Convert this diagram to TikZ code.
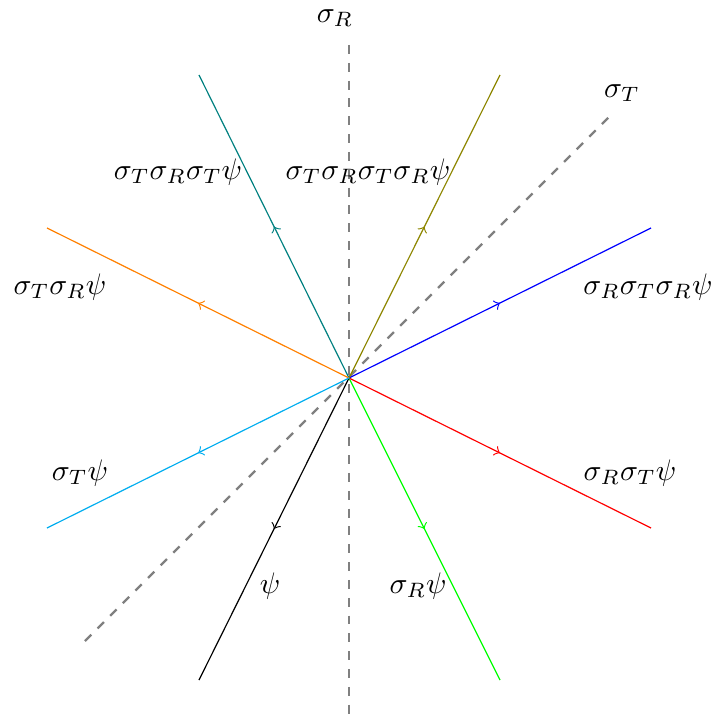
\documentclass[tikz,border=0pt]{standalone}
\usetikzlibrary{decorations.markings}
\begin{document}
\begin{tikzpicture}[x=0.3365pt,y=-0.3365pt,
  ray/.style={postaction={decorate},decoration={markings,mark=at position 0.5 with {\arrow{>}}}},
  mirror/.style={gray,thick,dashed},
  lab/.style={inner sep=0pt}]
\useasboundingbox (0,0) rectangle (714,717);
\coordinate (c) at (349,378);
\coordinate (rt) at (349,45);
\coordinate (rb) at (349,717);
\coordinate (tb) at (85,641);
\coordinate (tt) at (614,112);
\coordinate (e1) at (199,680);
\coordinate (e2) at (500,680);
\coordinate (e3) at (651,528);
\coordinate (e4) at (651,228);
\coordinate (e5) at (500,75);
\coordinate (e6) at (199,75);
\coordinate (e7) at (47,228);
\coordinate (e8) at (47,528);
\draw[mirror] (rt) -- (rb);
\draw[mirror] (tb) -- (tt);
\draw[ray,black] (c) -- (e1);
\draw[ray,green] (c) -- (e2);
\draw[ray,red] (c) -- (e3);
\draw[ray,blue] (c) -- (e4);
\draw[ray,olive] (c) -- (e5);
\draw[ray,teal] (c) -- (e6);
\draw[ray,orange] (c) -- (e7);
\draw[ray,cyan] (c) -- (e8);
\node[lab] (lR) at (335,18) {$\sigma_R$};
\node[lab] (lT) at (622,93) {$\sigma_T$};
\node[lab] (l6) at (178,172) {$\sigma_T\sigma_R\sigma_T\psi$};
\node[lab] (l5) at (368,172) {$\sigma_T\sigma_R\sigma_T\sigma_R\psi$};
\node[lab] (l7) at (60,287) {$\sigma_T\sigma_R\psi$};
\node[lab] (l4) at (648,287) {$\sigma_R\sigma_T\sigma_R\psi$};
\node[lab] (l8) at (80,473) {$\sigma_T\psi$};
\node[lab] (l3) at (630,473) {$\sigma_R\sigma_T\psi$};
\node[lab] (l1) at (270,586) {$\psi$};
\node[lab] (l2) at (418,586) {$\sigma_R\psi$};
\end{tikzpicture}
\end{document}
